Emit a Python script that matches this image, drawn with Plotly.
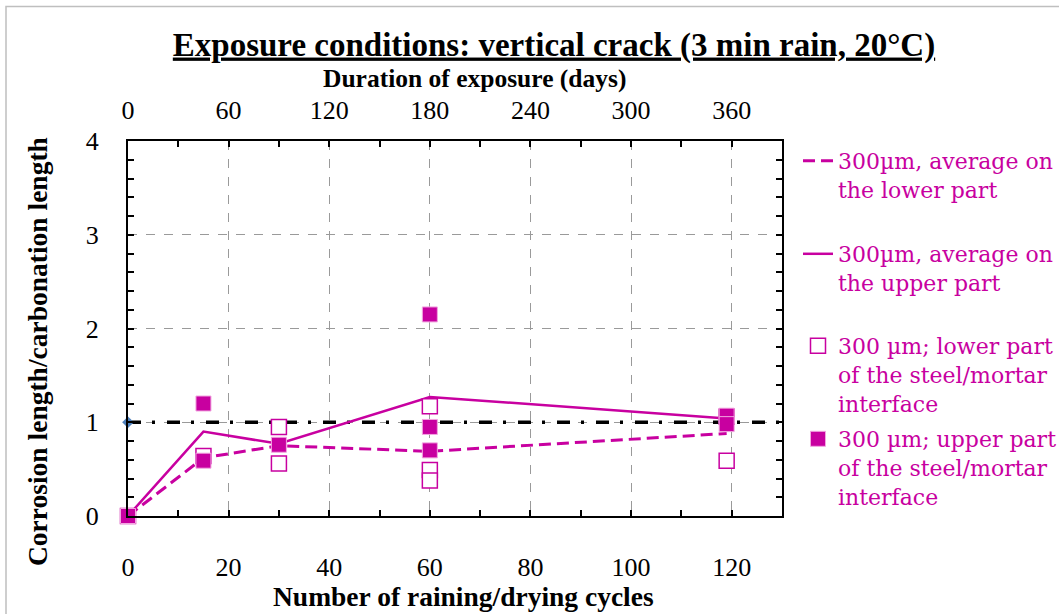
import plotly.graph_objects as go

MAGENTA = '#C800A0'

# averages per number of cycles
cycles = [0, 15, 30, 60, 119]
lower_avg = [0, 0.62, 0.75, 0.69, 0.88]
upper_avg = [0, 0.90, 0.77, 1.27, 1.04]

# individual measurements, lower part of the steel/mortar interface
lower_x = [0, 15, 30, 30, 60, 60, 60, 119, 119]
lower_y = [0, 0.64, 0.95, 0.56, 1.17, 0.49, 0.38, 0.59, 1.06]

# individual measurements, upper part of the steel/mortar interface
upper_x = [0, 15, 15, 30, 60, 60, 60, 119, 119]
upper_y = [0, 1.20, 0.59, 0.76, 2.15, 0.95, 0.70, 1.07, 0.98]

# reference line corrosion length = carbonation length
ref_x = [0, 130]
ref_y = [1, 1]

x_ticks = [0, 20, 40, 60, 80, 100, 120]
day_ticks = [0, 60, 120, 180, 240, 300, 360]
y_ticks = [0, 1, 2, 3, 4]

SERIF = 'Liberation Serif'
LEG_FONT = 'DejaVu Serif'

# plot area in pixels
L, R, T, B = 128, 782, 141, 516
W, H = R - L, B - T


def px_x(x):
    return (x - L) / W


def px_y(y):
    return (B - y) / H


fig = go.Figure()

fig.add_trace(go.Scatter(
    x=ref_x, y=ref_y, mode='lines', showlegend=False, hoverinfo='skip',
    line=dict(color='black', width=3.5, dash='13px,11px,3px,12px'),
))
fig.add_trace(go.Scatter(
    x=ref_x[:1], y=ref_y[:1], mode='markers', showlegend=False, cliponaxis=False,
    marker=dict(symbol='diamond', size=9, color='#4F81BD'),
))
fig.add_trace(go.Scatter(
    x=cycles, y=lower_avg, mode='lines', legend='legend', legendgroup='a',
    name='300µm, average on<br>the lower part<br> ',
    line=dict(color=MAGENTA, width=3, dash='12px,6px'),
))
fig.add_trace(go.Scatter(
    x=cycles, y=upper_avg, mode='lines', legend='legend', legendgroup='b',
    name='300µm, average on<br>the upper part',
    line=dict(color=MAGENTA, width=2.5),
))
fig.add_trace(go.Scatter(
    x=lower_x, y=lower_y, mode='markers', cliponaxis=False,
    legend='legend2', legendgroup='c',
    name='300 µm; lower part<br>of the steel/mortar<br>interface',
    marker=dict(symbol='square', size=15, color='white',
                line=dict(color=MAGENTA, width=1.5)),
))
fig.add_trace(go.Scatter(
    x=upper_x, y=upper_y, mode='markers', cliponaxis=False,
    legend='legend2', legendgroup='d',
    name='300 µm; upper part<br>of the steel/mortar<br>interface',
    marker=dict(symbol='square', size=15, color=MAGENTA,
                line=dict(color='#F2A6E0', width=1)),
))
# invisible trace so the top (days) axis gets drawn
fig.add_trace(go.Scatter(
    x=day_ticks, y=[0] * len(day_ticks), xaxis='x2', mode='markers',
    marker=dict(opacity=0), showlegend=False, hoverinfo='skip',
))

axis_common = dict(
    showline=True, linecolor='black', linewidth=2, mirror='ticks',
    ticks='inside', ticklen=6, tickcolor='black', tickwidth=1.5,
    showgrid=True, gridcolor='#9A9A9A', griddash='dash', gridwidth=1,
    zeroline=False, automargin=False,
    tickfont=dict(family=SERIF, size=26, color='black'),
)

title_font = dict(family=SERIF, size=27.5, color='black')

legend_common = dict(
    x=1 + 16 / W, xanchor='left', yanchor='top',
    bgcolor='rgba(0,0,0,0)', valign='top', tracegroupgap=4.2,
    font=dict(family=LEG_FONT, size=22, color=MAGENTA),
    itemwidth=30,
)

fig.update_layout(
    width=1059, height=614,
    plot_bgcolor='white', paper_bgcolor='white',
    margin=dict(l=L, r=1059 - R, t=T, b=614 - B, autoexpand=False),
    title=dict(
        text='<b>Exposure conditions: vertical crack (3 min rain, 20°C)</b>',
        x=554 / 1059, xanchor='center', y=1 - 44 / 614, yanchor='middle',
        font=dict(family=SERIF, size=33, color='black', lineposition='under'),
    ),
    xaxis=dict(
        axis_common, range=[0, 130], tickvals=x_ticks,
        minor=dict(dtick=10, tick0=0, ticks='inside', ticklen=6, tickcolor='black', showgrid=False),
        ticklabelstandoff=27,
    ),
    xaxis2=dict(
        overlaying='x', side='top', range=[0, 390], tickvals=day_ticks,
        showgrid=False, showline=False, ticks='', zeroline=False, automargin=False,
        ticklabelstandoff=16,
        tickfont=dict(family=SERIF, size=26, color='black'),
    ),
    yaxis=dict(
        axis_common, range=[0, 4], tickvals=y_ticks,
        minor=dict(dtick=0.2, tick0=0, ticks='inside', ticklen=6, tickcolor='black', showgrid=False),
        ticklabelstandoff=22,
    ),
    legend=dict(legend_common, y=px_y(140)),
    legend2=dict(legend_common, y=px_y(325)),
    annotations=[
        dict(text='<b>Number of raining/drying cycles</b>', xref='paper', yref='paper',
             x=px_x(463), y=px_y(596), xanchor='center', yanchor='middle',
             showarrow=False, font=title_font),
        dict(text='<b>Duration of exposure (days)</b>', xref='paper', yref='paper',
             x=px_x(474), y=px_y(78), xanchor='center', yanchor='middle',
             showarrow=False, font=dict(title_font, size=25.5)),
        dict(text='<b>Corrosion length/carbonation length</b>', xref='paper', yref='paper',
             x=px_x(37), y=px_y(352), xanchor='center', yanchor='middle', textangle=-90,
             showarrow=False, font=title_font),
    ],
    shapes=[dict(
        type='rect', xref='paper', yref='paper',
        x0=px_x(6), x1=2, y0=-1, y1=px_y(6.5),
        line=dict(color='#BFBFBF', width=1.5), fillcolor='rgba(0,0,0,0)',
        layer='below',
    )],
)

# drop the default 8px page margin so the figure sits at the window's corner
fig.write_html('out.html', config={'displayModeBar': False},
               post_script="document.body.style.margin='0';")
